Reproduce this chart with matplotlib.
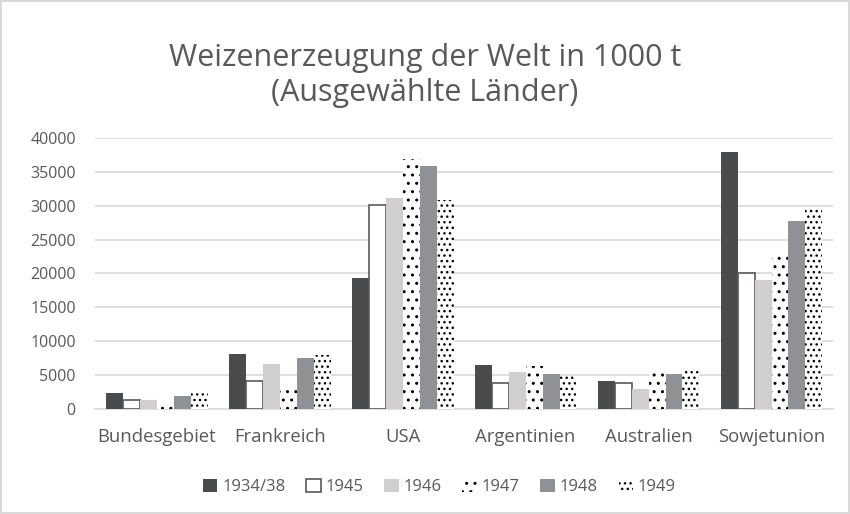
import numpy as np
import matplotlib
matplotlib.use("Agg")
from matplotlib import pyplot as plt

plt.rcParams['font.family'] = ['Open Sans', 'DejaVu Sans']
plt.rcParams['hatch.linewidth'] = 1.0

countries = ["Bundesgebiet", "Frankreich", "USA", "Argentinien", "Australien", "Sowjetunion"]
years = ["1934/38", "1945", "1946", "1947", "1948", "1949"]

# Weizenerzeugung in 1000 t
v_1934_38 = [2400, 8100, 19400, 6500, 4100, 38000]
v_1945 = [1400, 4200, 30100, 3900, 3800, 20000]
v_1946 = [1300, 6700, 31200, 5500, 3000, 19000]
v_1947 = [850, 3000, 36900, 6300, 5900, 23000]
v_1948 = [1900, 7500, 35800, 5100, 5100, 27800]
v_1949 = [2400, 8000, 30900, 4800, 5900, 29700]
series = [v_1934_38, v_1945, v_1946, v_1947, v_1948, v_1949]

# (facecolor, edgecolor, linewidth, hatch)
styles = [
    ("#4a4b4d", "#4a4b4d", 0.0, None),
    ("white", "#595959", 1.2, None),
    ("#d0cece", "#d0cece", 0.0, None),
    ("white", "black", 0.0, ".."),
    ("#909194", "#909194", 0.0, None),
    ("white", "black", 0.0, "..."),
]

text_col = "#595959"
grid_col = "#d9d9d9"

fig = plt.figure(figsize=(8.5, 5.14), dpi=100)
fig.patch.set_edgecolor("#d9d9d9")
fig.patch.set_linewidth(1.5)
ax = fig.add_axes([0.112, 0.2043, 0.868, 0.5272])

x = np.arange(len(countries))
bw = 0.138
for i, (vals, st) in enumerate(zip(series, styles)):
    fc, ec, lw, hatch = st
    off = (i - 2.5) * bw
    ax.bar(x + off, vals, width=bw, facecolor=fc, edgecolor=ec, linewidth=lw,
           hatch=hatch, label=years[i], zorder=3)

ax.set_ylim(0, 40000)
ax.set_xlim(-0.5, len(countries) - 0.5)
ax.set_yticks(np.arange(0, 40001, 5000))
ax.yaxis.grid(True, color=grid_col, linewidth=1.2, zorder=0)
ax.set_axisbelow(True)
for s in ["top", "right", "left"]:
    ax.spines[s].set_visible(False)
ax.spines["bottom"].set_color(grid_col)
ax.spines["bottom"].set_linewidth(1.2)
ax.tick_params(length=0, labelsize=11.5, colors=text_col)
ax.tick_params(axis="x", pad=14, labelsize=13.3)
ax.tick_params(axis="y", pad=14)
ax.set_xticks(x)
ax.set_xticklabels(countries)

fig.text(0.5, 0.853, "Weizenerzeugung der Welt in 1000 t\n(Ausgewählte Länder)",
         ha="center", va="center", fontsize=22, color=text_col, linespacing=1.2)

fig.legend(loc="center", bbox_to_anchor=(0.517, 0.0525), ncol=6, frameon=False,
           fontsize=12, labelcolor=text_col, handlelength=0.85, handleheight=0.85,
           handletextpad=0.3, columnspacing=1.25)

fig.savefig("out.png", dpi=100)
